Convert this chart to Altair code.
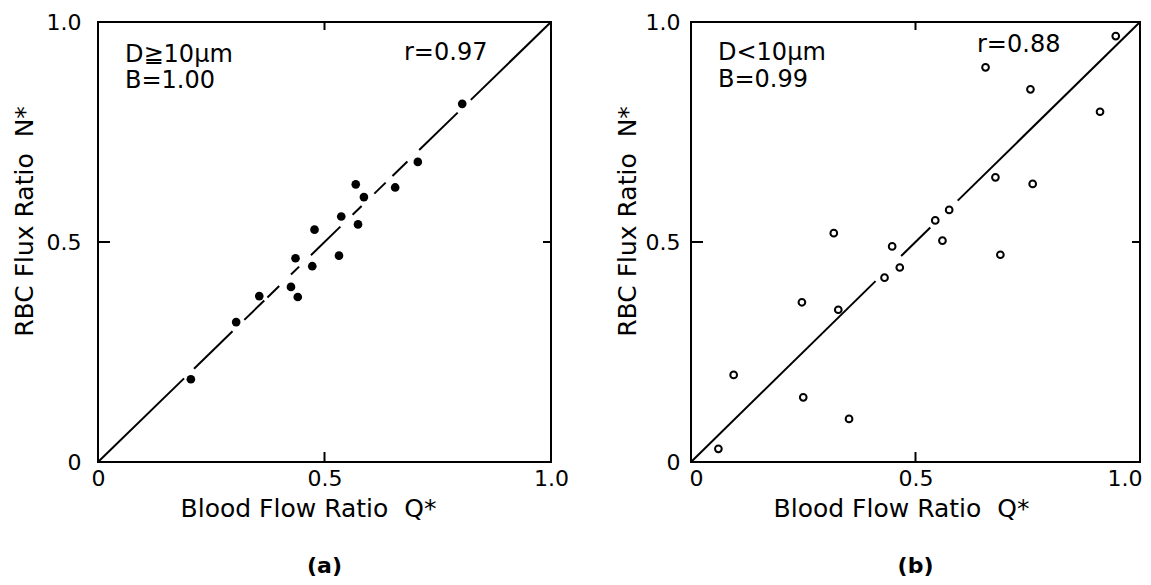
import altair as alt
import pandas as pd

# ---- data ----
# panel (a): D >= 10 um (filled dots)
q_a = [0.205, 0.305, 0.356, 0.426, 0.441, 0.436, 0.473, 0.478, 0.532, 0.537,
       0.569, 0.574, 0.587, 0.656, 0.706, 0.804]
n_a = [0.188, 0.318, 0.377, 0.398, 0.375, 0.463, 0.445, 0.528, 0.469, 0.558,
       0.631, 0.540, 0.602, 0.624, 0.682, 0.814]
# panel (b): D < 10 um (open circles)
q_b = [0.061, 0.095, 0.247, 0.250, 0.318, 0.328, 0.352, 0.431, 0.448, 0.465,
       0.544, 0.560, 0.575, 0.656, 0.678, 0.689, 0.756, 0.761, 0.911, 0.946]
n_b = [0.030, 0.198, 0.363, 0.147, 0.520, 0.346, 0.098, 0.419, 0.490, 0.442,
       0.549, 0.503, 0.573, 0.897, 0.647, 0.471, 0.847, 0.632, 0.796, 0.968]

# visible pieces of the fitted line (Q* ranges), line N* = Q*
seg_a_start = [0.0, 0.212, 0.323, 0.374, 0.426, 0.470, 0.562, 0.610, 0.650, 0.709, 0.823]
seg_a_end = [0.190, 0.297, 0.367, 0.400, 0.444, 0.535, 0.582, 0.635, 0.683, 0.794, 1.0]
seg_b_start = [0.0, 0.468, 0.594]
seg_b_end = [0.411, 0.533, 1.0]

tick_vals = [0.0, 0.5, 1.0]
labels_a = ["D≧10μm", "B=1.00", "r=0.97"]
labels_b = ["D<10μm", "B=0.99", "r=0.88"]
x_title = "Blood Flow Ratio\u00a0\u00a0Q*"
y_title = "RBC Flux Ratio\u00a0\u00a0N*"

FONT = "DejaVu Sans"
W_A, W_B, H = 453, 449, 440


def panel(q, n, s0, s1, texts, text_pos, W, filled, letter,
          ylab_pad, ytitle_x, xflush):
    pts = pd.DataFrame({"q": q, "n": n})
    segs = pd.DataFrame({"x0": s0, "x1": s1})
    xs = alt.Scale(domain=[0, 1], nice=False, zero=False)
    ys = alt.Scale(domain=[0, 1], nice=False, zero=False)
    lab = "datum.value == 0 ? '0' : format(datum.value, '.1f')"
    xax = alt.Axis(values=tick_vals, labelExpr=lab, ticks=False, domain=False,
                   grid=False, labelFlush=xflush, labelFlushOffset=2,
                   labelFontSize=22, labelPadding=6,
                   labelColor="black", labelFont=FONT,
                   title=x_title, titleFontSize=25, titleFont=FONT,
                   titleFontWeight="normal", titleColor="black",
                   titleX=210, titleY=34, titleAlign="center", titleBaseline="top")
    yax = alt.Axis(values=tick_vals, labelExpr=lab, ticks=False, domain=False,
                   grid=False, labelFlush=False, labelFontSize=22,
                   labelPadding=ylab_pad,
                   labelColor="black", labelFont=FONT,
                   title=y_title, titleFontSize=25, titleFont=FONT,
                   titleFontWeight="normal", titleColor="black",
                   titleX=ytitle_x, titleY=199, titleAngle=270,
                   titleAlign="center", titleBaseline="middle")

    line = alt.Chart(segs).mark_rule(color="black", strokeWidth=2).encode(
        x=alt.X("x0:Q", scale=xs, axis=xax),
        y=alt.Y("x0:Q", scale=ys, axis=yax),
        x2="x1:Q", y2="x1:Q")

    if filled:
        dots = alt.Chart(pts).mark_point(filled=True, color="black", size=75, opacity=1,
                                         shape="circle")
    else:
        dots = alt.Chart(pts).mark_point(filled=False, color="black", size=45,
                                         strokeWidth=2, opacity=1, shape="circle")
    dots = dots.encode(x=alt.X("q:Q", scale=xs), y=alt.Y("n:Q", scale=ys))

    td = pd.DataFrame({"v": [0.5]})
    tb = alt.Chart(td).mark_rule(color="black", strokeWidth=2).encode(
        x=alt.X("v:Q", scale=xs), y=alt.value(H), y2=alt.value(H - 10))
    tt = alt.Chart(td).mark_rule(color="black", strokeWidth=2).encode(
        x=alt.X("v:Q", scale=xs), y=alt.value(0), y2=alt.value(8))
    tl = alt.Chart(td).mark_rule(color="black", strokeWidth=2).encode(
        y=alt.Y("v:Q", scale=ys), x=alt.value(0), x2=alt.value(12))
    tr = alt.Chart(td).mark_rule(color="black", strokeWidth=2).encode(
        y=alt.Y("v:Q", scale=ys), x=alt.value(W), x2=alt.value(W - 8))

    txt_layers = []
    for t, (px, py) in zip(texts, text_pos):
        txt_layers.append(
            alt.Chart(pd.DataFrame({"t": [t]})).mark_text(
                align="left", baseline="alphabetic", fontSize=24, font=FONT,
                color="black").encode(text="t:N", x=alt.value(px), y=alt.value(py)))

    return alt.layer(line, dots, tb, tt, tl, tr, *txt_layers).properties(
        width=W, height=H,
        title=alt.TitleParams(letter, orient="bottom", fontSize=22, font=FONT,
                              fontWeight="bold", color="black", offset=35))


pa = panel(q_a, n_a, seg_a_start, seg_a_end, labels_a,
           [(27, 40), (27, 66), (306, 38)], W_A, True, "(a)", 17, -74, False)
pb = panel(q_b, n_b, seg_b_start, seg_b_end, labels_b,
           [(27, 38), (27, 65), (286, 30)], W_B, False, "(b)", 11, -64, True)

chart = alt.hconcat(pa, pb, spacing=44).properties(
    background="white",
    padding={"left": 3, "top": 2, "right": 0, "bottom": 0},
).configure_view(stroke="black", strokeWidth=2)

chart.save("out.html", embed_options={"renderer": "svg", "actions": False})
